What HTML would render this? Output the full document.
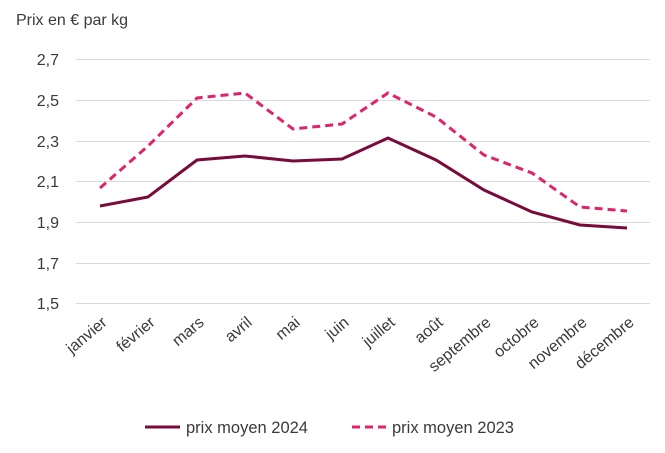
<!DOCTYPE html>
<html><head><meta charset="utf-8"><style>
body{margin:0;background:#fff;}
svg text{font-family:"Liberation Sans",sans-serif;fill:#3a3a3a;}
</style></head><body>
<svg width="665" height="448" viewBox="0 0 665 448" xmlns="http://www.w3.org/2000/svg">
<text x="16" y="25" font-size="16">Prix en € par kg</text>
<g stroke="#d9d9d9" stroke-width="1">
<line x1="76" x2="650" y1="59.5" y2="59.5"/>
<line x1="76" x2="650" y1="100.5" y2="100.5"/>
<line x1="76" x2="650" y1="141.5" y2="141.5"/>
<line x1="76" x2="650" y1="181.5" y2="181.5"/>
<line x1="76" x2="650" y1="222.5" y2="222.5"/>
<line x1="76" x2="650" y1="263.5" y2="263.5"/>
<line x1="76" x2="650" y1="303.5" y2="303.5"/>
</g>
<g font-size="16" text-anchor="end">
<text x="59" y="65">2,7</text>
<text x="59" y="106">2,5</text>
<text x="59" y="147">2,3</text>
<text x="59" y="187">2,1</text>
<text x="59" y="228">1,9</text>
<text x="59" y="269">1,7</text>
<text x="59" y="309">1,5</text>
</g>
<g font-size="16" text-anchor="end">
<text transform="translate(108,324) rotate(-40)">janvier</text>
<text transform="translate(156,324) rotate(-40)">février</text>
<text transform="translate(205,324) rotate(-40)">mars</text>
<text transform="translate(253,324) rotate(-40)">avril</text>
<text transform="translate(301,324) rotate(-40)">mai</text>
<text transform="translate(350,324) rotate(-40)">juin</text>
<text transform="translate(396,324) rotate(-40)">juillet</text>
<text transform="translate(444,324) rotate(-40)">août</text>
<text transform="translate(492,324) rotate(-40)">septembre</text>
<text transform="translate(540,324) rotate(-40)">octobre</text>
<text transform="translate(588,324) rotate(-40)">novembre</text>
<text transform="translate(635,324) rotate(-40)">décembre</text>
</g>
<polyline fill="none" stroke="#e0236b" stroke-width="3" stroke-dasharray="8,5" points="100,188 148,146 197,98 245,93 293,129 342,124 388,93 436,117 484,155 532,173 580,207 627,211"/>
<polyline fill="none" stroke="#7a0a3c" stroke-width="3" points="100,206 148,197 197,160 245,156 293,161 342,159 388,138 436,160 484,190 532,212 580,225 627,228"/>
<line x1="145" x2="180" y1="427" y2="427" stroke="#7a0a3c" stroke-width="3"/>
<text x="186" y="433" font-size="16.5">prix moyen 2024</text>
<line x1="352" x2="387" y1="427" y2="427" stroke="#e0236b" stroke-width="3" stroke-dasharray="8,5"/>
<text x="392" y="433" font-size="16.5">prix moyen 2023</text>
</svg>
</body></html>
